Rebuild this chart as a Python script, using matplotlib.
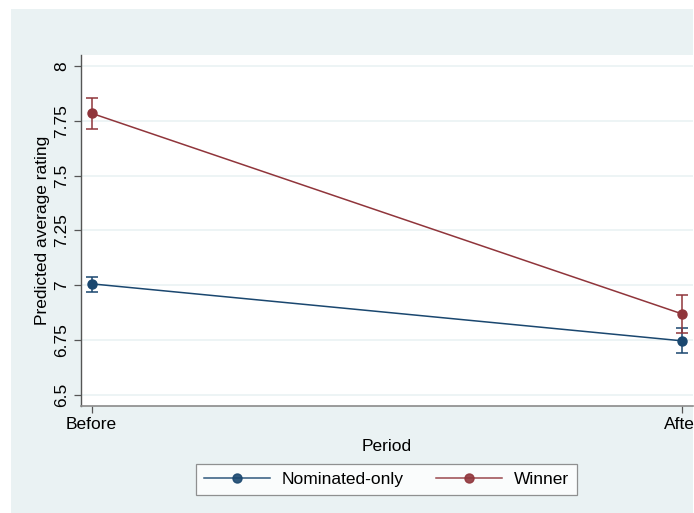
import matplotlib

matplotlib.use("Agg")
import matplotlib.pyplot as plt
from matplotlib.lines import Line2D
from matplotlib.patches import Rectangle

# Chart data
PERIODS = ["Before", "After"]
NOMINATED_MEAN = [7.006, 6.746]
NOMINATED_LOW = [6.971, 6.690]
NOMINATED_HIGH = [7.039, 6.804]
WINNER_MEAN = [7.784, 6.869]
WINNER_LOW = [7.713, 6.784]
WINNER_HIGH = [7.853, 6.956]
Y_TICKS = [6.5, 6.75, 7, 7.25, 7.5, 7.75, 8]
Y_TICK_LABELS = ["6.5", "6.75", "7", "7.25", "7.5", "7.75", "8"]

NAVY = "#1A476F"
MAROON = "#90353B"
BG = "#EAF2F3"

W, H = 694, 513
FS = 12.5

plt.rcParams["font.family"] = ["Liberation Sans", "DejaVu Sans"]

fig = plt.figure(figsize=(W / 100, H / 100), dpi=100)
fig.patches.append(
    Rectangle((11 / W, 0), (693 - 11) / W, (H - 9) / H,
              transform=fig.transFigure, facecolor=BG, edgecolor="none", zorder=-10)
)

left, right, top, bottom = 80.7, 693, 55, 405.5
ax = fig.add_axes([left / W, 1 - bottom / H, (right - left) / W, (bottom - top) / H])
ax.set_facecolor("white")

x = list(range(len(PERIODS)))


def draw_series(mean, low, high, color):
    yerr = [[m - lo for m, lo in zip(mean, low)], [hi - m for m, hi in zip(mean, high)]]
    ax.errorbar(x, mean, yerr=yerr, color=color, lw=1.1, marker="o", markersize=6.5,
                capsize=4.3, capthick=1.1, elinewidth=1.1, zorder=3)


draw_series(NOMINATED_MEAN, NOMINATED_LOW, NOMINATED_HIGH, NAVY)
draw_series(WINNER_MEAN, WINNER_LOW, WINNER_HIGH, MAROON)

ax.set_xlim(-0.0186, 1.0186)
ax.set_ylim(6.451, 8.05)
ax.set_xticks(x)
ax.set_xticklabels(PERIODS, fontsize=FS)
ax.set_yticks(Y_TICKS)
ax.set_yticklabels(Y_TICK_LABELS, fontsize=FS, rotation=90, va="center")
ax.grid(axis="y", color=BG, lw=1.2, zorder=0)
ax.set_axisbelow(True)

for side in ["top", "right"]:
    ax.spines[side].set_visible(False)
ax.spines["left"].set_color("#555555")
ax.spines["bottom"].set_color("#8a8a8a")
ax.spines["left"].set_linewidth(1.0)
ax.spines["bottom"].set_linewidth(1.2)
ax.tick_params(axis="y", length=5, width=0.9, color="#555555", pad=3)
ax.tick_params(axis="x", length=5, width=0.9, color="#555555", pad=3)

ax.set_ylabel("Predicted average rating", fontsize=FS, labelpad=3)
ax.set_xlabel("Period", fontsize=FS, labelpad=5)

handles = [
    Line2D([], [], color=NAVY, lw=1.1, marker="o", markersize=6.5, alpha=0.9),
    Line2D([], [], color=MAROON, lw=1.1, marker="o", markersize=6.5, alpha=0.9),
]
leg = fig.legend(handles, ["Nominated-only", "Winner"], loc="center",
                 bbox_to_anchor=(386.5 / W, 1 - 479.5 / H), ncol=2,
                 fontsize=FS, frameon=True, fancybox=False, handlelength=3.8,
                 handletextpad=0.65, columnspacing=1.9, borderpad=0.45)
leg.get_frame().set_edgecolor("#777777")
leg.get_frame().set_linewidth(0.9)

fig.savefig("out.png", dpi=100)
